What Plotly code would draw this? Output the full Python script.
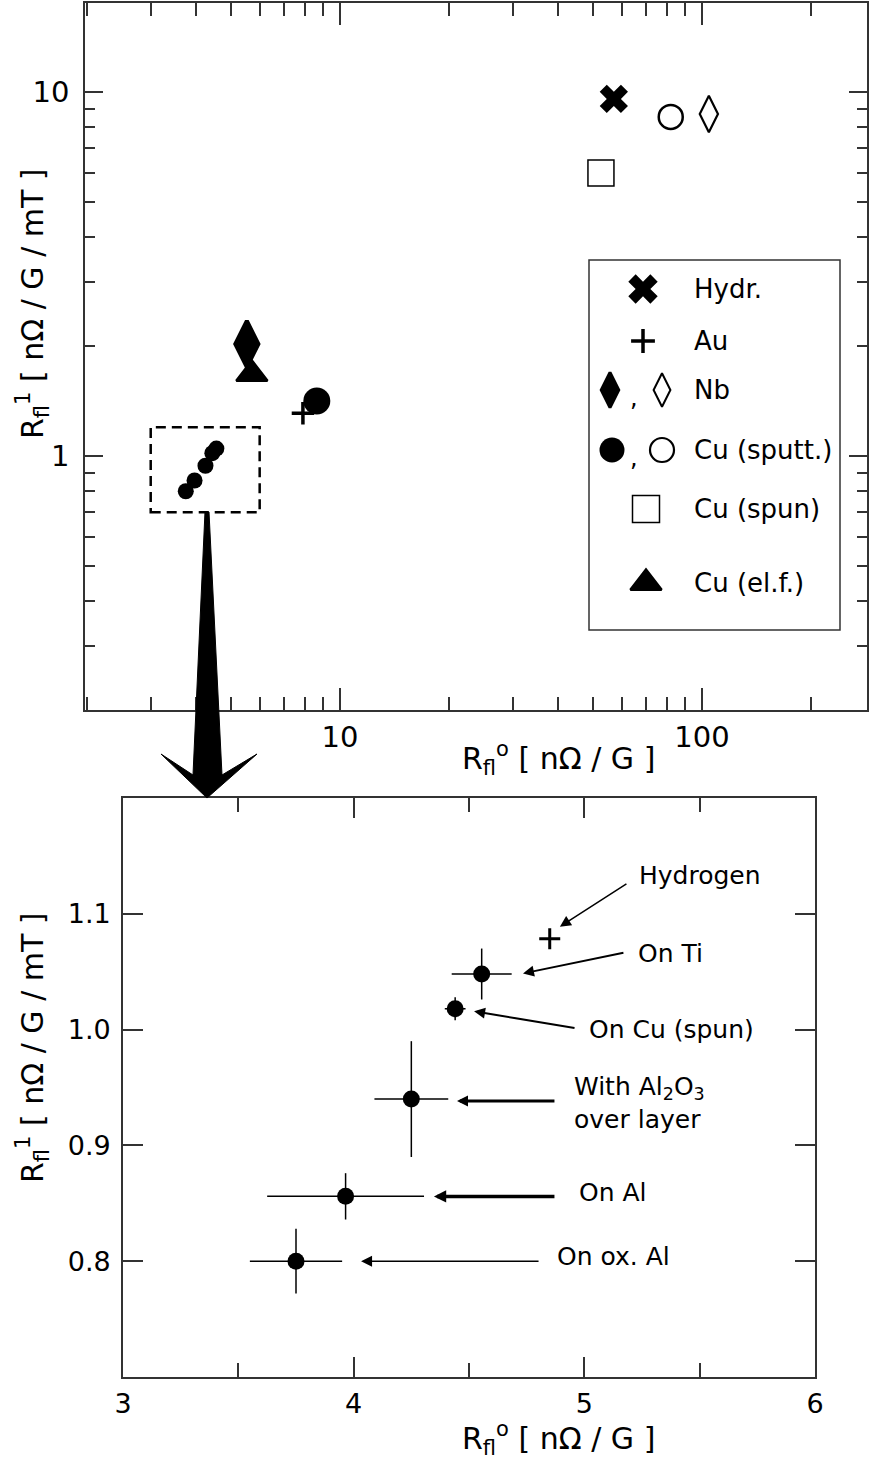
import plotly.graph_objects as go

W, H = 869, 1465
FONT = "DejaVu Sans, Liberation Sans, Arial, sans-serif"
INK = "#000000"
AX = "#333333"

# ---------------- top panel (overview, log-log) ----------------
hydr_x, hydr_y = [57.1], [9.57]
au_x, au_y = [7.9], [1.31]
nb_fill_x, nb_fill_y = [5.53], [2.03]
nb_open_x, nb_open_y = [104.5], [8.7]
cu_sputt_fill_x, cu_sputt_fill_y = [8.63], [1.416]
cu_sputt_open_x, cu_sputt_open_y = [82.0], [8.54]
cu_spun_x, cu_spun_y = [52.6], [5.99]
cu_elf_x, cu_elf_y = [5.71], [1.68]

top_x_ticks = [10, 100]
top_x_minor = [2, 3, 4, 5, 6, 7, 8, 9, 20, 30, 40, 50, 60, 70, 80, 90, 200]
top_y_ticks = [1, 10]
top_y_minor = [0.2, 0.3, 0.4, 0.5, 0.6, 0.7, 0.8, 0.9, 2, 3, 4, 5, 6, 7, 8, 9]

# ---------------- bottom panel (zoom) ----------------
sample_labels = ["On ox. Al", "On Al", "With Al<sub>2</sub>O<sub>3</sub><br>over layer",
                 "On Cu (spun)", "On Ti"]
r0 = [3.75, 3.965, 4.25, 4.44, 4.555]
r1 = [0.800, 0.856, 0.940, 1.018, 1.048]
r0_err = [0.20, 0.34, 0.16, 0.045, 0.13]
r1_err = [0.028, 0.020, 0.050, 0.010, 0.022]
hydrogen_r0, hydrogen_r1 = [4.85], [1.0785]

bot_x_ticks = [3, 4, 5, 6]
bot_x_minor = [3.5, 4.5, 5.5]
bot_y_ticks = [0.8, 0.9, 1.0, 1.1]
bot_x_range = [3, 6]
bot_y_range = [0.7, 1.2]

# ---------------- legend entries ----------------
legend_text = ["Hydr.", "Au", "Nb", "Cu (sputt.)", "Cu (spun)", "Cu (el.f.)"]


def pxx(x):
    return x / W


def pxy(y):
    return 1 - y / H


fig = go.Figure()

# ---- top panel traces
def top(x, y, symbol, size, lw=0, fill=True):
    fig.add_trace(go.Scatter(
        x=x, y=y, mode="markers", xaxis="x", yaxis="y", showlegend=False,
        marker=dict(symbol=symbol, size=size, color="black" if fill else "rgba(0,0,0,0)",
                    line=dict(width=lw, color="black"))))

top(r0, r1, "circle", 16)
top(hydr_x, hydr_y, "x", 25)
top(au_x, au_y, "cross-thin", 16, lw=3.5)
top(nb_fill_x, nb_fill_y, "diamond-tall", 33, lw=4)
top(nb_open_x, nb_open_y, "diamond-tall-open", 26, lw=2.2)
top(cu_sputt_fill_x, cu_sputt_fill_y, "circle", 27)
top(cu_sputt_open_x, cu_sputt_open_y, "circle-open", 24, lw=2.5)
top(cu_spun_x, cu_spun_y, "square-open", 26, lw=1.5)
top(cu_elf_x, cu_elf_y, "triangle-up", 27, lw=2.5)

# ---- bottom panel traces
fig.add_trace(go.Scatter(
    x=r0, y=r1, mode="markers", xaxis="x2", yaxis="y2", showlegend=False,
    marker=dict(symbol="circle", size=17, color="black"),
    error_x=dict(type="data", array=r0_err, color="black", thickness=1.5, width=0),
    error_y=dict(type="data", array=r1_err, color="black", thickness=1.5, width=0)))
fig.add_trace(go.Scatter(
    x=hydrogen_r0, y=hydrogen_r1, mode="markers", xaxis="x2", yaxis="y2", showlegend=False,
    marker=dict(symbol="cross-thin", size=15, line=dict(width=3, color="black"))))

# ---- legend (manual, on a hidden pixel-scaled axis)
leg_left, leg_right, leg_top, leg_bot = 589, 840, 260, 630
rows = [289, 341, 390, 450, 509, 583]
sym_x = 643
text_x = 692

def leg(x, y, symbol, size, lw=0, fill=True):
    fig.add_trace(go.Scatter(
        x=[x], y=[y], mode="markers", xaxis="x3", yaxis="y3", showlegend=False,
        marker=dict(symbol=symbol, size=size, color="black" if fill else "rgba(0,0,0,0)",
                    line=dict(width=lw, color="black"))))

leg(sym_x, rows[0], "x", 26)
leg(sym_x, rows[1], "cross-thin", 17, lw=3.5)
leg(610, rows[2], "diamond-tall", 25, lw=3)
leg(662, rows[2], "diamond-tall-open", 24, lw=2)
leg(612, rows[3], "circle", 25)
leg(662, rows[3], "circle-open", 24, lw=2.2)
leg(646, rows[4], "square-open", 27, lw=1.5)
leg(646, rows[5], "triangle-up", 27, lw=2.5)

annotations = []
for t, ry in zip(legend_text, rows):
    annotations.append(dict(x=text_x, y=ry, xref="x3", yref="y3", text=t, showarrow=False,
                            xanchor="left", yanchor="middle",
                            font=dict(family=FONT, size=26, color=INK)))
for cx, ry in [(634, rows[2]), (634, rows[3])]:
    annotations.append(dict(x=cx, y=ry + 8, xref="x3", yref="y3", text=",", showarrow=False,
                            xanchor="center", yanchor="middle",
                            font=dict(family=FONT, size=24, color=INK)))

# ---- bottom panel labels and arrows (data coordinates of the zoom panel)
label_x = [4.873, 4.968, 4.946, 5.012, 5.224]
label_y = [0.8043, 0.8593, 0.9367, 1.0003, 1.0657]
arrow_tail = [(4.808, 0.800), (4.877, 0.8559), (4.877, 0.9384), (4.964, 1.0012), (5.176, 1.0666)]
arrow_head = [(4.032, 0.800), (4.348, 0.8559), (4.448, 0.9384), (4.522, 1.0158), (4.734, 1.0485)]
arrow_w = [1.5, 3.5, 3, 2, 2]
for t, lx, ly in zip(sample_labels, label_x, label_y):
    annotations.append(dict(x=lx, y=ly, xref="x2", yref="y2", text=t, showarrow=False,
                            xanchor="left", yanchor="middle", align="left",
                            font=dict(family=FONT, size=25, color=INK)))
annotations.append(dict(x=5.228, y=1.1328, xref="x2", yref="y2", text="Hydrogen",
                        showarrow=False, xanchor="left", yanchor="middle",
                        font=dict(family=FONT, size=25, color=INK)))
arrow_tail.append((5.189, 1.1267))
arrow_head.append((4.894, 1.0889))
arrow_w.append(1.5)
for (tx, ty), (hx, hy), w in zip(arrow_tail, arrow_head, arrow_w):
    annotations.append(dict(x=hx, y=hy, ax=tx, ay=ty, xref="x2", yref="y2",
                            axref="x2", ayref="y2", text="", showarrow=True,
                            arrowhead=2, arrowsize=max(0.7, 2.2 / w), arrowwidth=w,
                            arrowcolor="black"))

# ---- axis titles
ytitle = "R<sub>fl</sub><sup>1</sup> [ nΩ / G / mT ]"
xtitle = "R<sub>fl</sub><sup>o</sup> [ nΩ / G ]"
annotations += [
    dict(x=pxx(558), y=pxy(758), xref="paper", yref="paper", text=xtitle, showarrow=False,
         xanchor="center", yanchor="middle", font=dict(family=FONT, size=30, color=INK)),
    dict(x=pxx(32), y=pxy(304), xref="paper", yref="paper", text=ytitle, showarrow=False,
         textangle=-90, xanchor="center", yanchor="middle",
         font=dict(family=FONT, size=30, color=INK)),
    dict(x=pxx(558), y=pxy(1438), xref="paper", yref="paper", text=xtitle, showarrow=False,
         xanchor="center", yanchor="middle", font=dict(family=FONT, size=30, color=INK)),
    dict(x=pxx(32), y=pxy(1048), xref="paper", yref="paper", text=ytitle, showarrow=False,
         textangle=-90, xanchor="center", yanchor="middle",
         font=dict(family=FONT, size=30, color=INK)),
]

# ---- shapes: zoom box, big arrow, legend frame
arrow_pts = [(205, 512), (209, 512), (222, 775), (257, 754), (207, 798),
             (161, 754), (193, 775)]
path = "M " + " L ".join(f"{pxx(a):.5f},{pxy(b):.5f}" for a, b in arrow_pts) + " Z"
shapes = [
    dict(type="rect", xref="x", yref="y", x0=bot_x_range[0], x1=bot_x_range[1],
         y0=bot_y_range[0], y1=bot_y_range[1],
         line=dict(color="black", width=2.5, dash="10px,6px")),
    dict(type="path", xref="paper", yref="paper", path=path,
         fillcolor="black", line=dict(color="black", width=1)),
    dict(type="rect", xref="paper", yref="paper", x0=pxx(leg_left), x1=pxx(leg_right),
         y0=pxy(leg_bot), y1=pxy(leg_top), line=dict(color=AX, width=1.5)),
]

axis_common = dict(showline=True, linecolor=AX, linewidth=1.6, mirror="ticks",
                   ticks="inside", tickcolor=AX, tickwidth=1.5, showgrid=False,
                   zeroline=False, fixedrange=True, automargin=False)

fig.update_layout(
    width=W, height=H, margin=dict(l=0, r=0, t=0, b=0),
    paper_bgcolor="white", plot_bgcolor="white", showlegend=False,
    font=dict(family=FONT, color=INK),
    xaxis=dict(**axis_common, type="log", domain=[pxx(85), pxx(867)],
               range=[0.2956, 2.456], anchor="y",
               tickvals=top_x_ticks, ticktext=[str(v) for v in top_x_ticks],
               ticklen=22, ticklabelstandoff=0,
               tickfont=dict(family=FONT, size=29, color=INK),
               minor=dict(tickvals=top_x_minor, ticklen=13, ticks="inside",
                          tickcolor=AX, tickwidth=1.5)),
    yaxis=dict(**axis_common, type="log", domain=[pxy(710), pxy(3)],
               range=[-0.698, 1.2445], anchor="x",
               tickvals=top_y_ticks, ticktext=[str(v) for v in top_y_ticks],
               ticklen=18, ticklabelstandoff=8,
               tickfont=dict(family=FONT, size=29, color=INK),
               minor=dict(tickvals=top_y_minor, ticklen=10, ticks="inside",
                          tickcolor=AX, tickwidth=1.5)),
    xaxis2=dict(**axis_common, domain=[pxx(123), pxx(815)], range=bot_x_range,
                anchor="y2", tickvals=bot_x_ticks, ticklen=20, ticklabelstandoff=2,
                tickfont=dict(family=FONT, size=27, color=INK),
                minor=dict(tickvals=bot_x_minor, ticklen=14, ticks="inside",
                           tickcolor=AX, tickwidth=1.5)),
    yaxis2=dict(**axis_common, domain=[pxy(1377), pxy(798)], range=bot_y_range,
                anchor="x2", tickvals=bot_y_ticks, tickformat=".1f", ticklen=20,
                ticklabelstandoff=5, tickfont=dict(family=FONT, size=27, color=INK)),
    xaxis3=dict(domain=[pxx(leg_left), pxx(leg_right)], range=[leg_left, leg_right],
                visible=False, fixedrange=True, anchor="y3"),
    yaxis3=dict(domain=[pxy(leg_bot), pxy(leg_top)], range=[leg_bot, leg_top],
                visible=False, fixedrange=True, anchor="x3"),
    annotations=annotations,
    shapes=shapes,
)

fig.write_html(
    "out.html",
    config={"displayModeBar": False},
    post_script="document.body.style.margin='0';document.body.style.overflow='hidden';",
)
